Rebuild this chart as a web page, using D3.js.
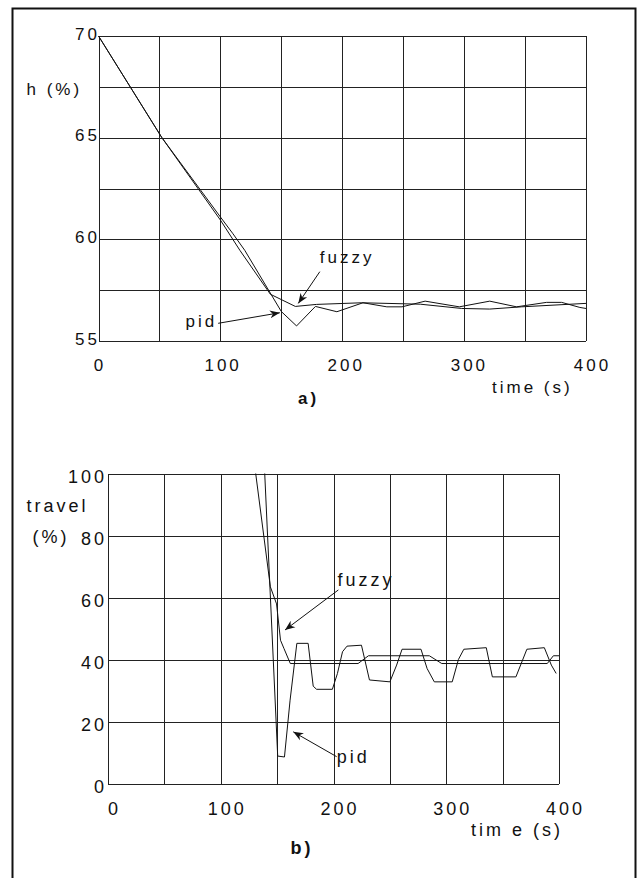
<!DOCTYPE html>
<html>
<head>
<meta charset="utf-8">
<script src="https://cdn.jsdelivr.net/npm/d3@7"></script>
<style>
  body { margin: 0; background: #fff; }
  svg text { font-family: "Liberation Sans", Arial, sans-serif; fill: #111; letter-spacing: 3px; }
</style>
</head>
<body>
<svg id="fig"></svg>
<script>
// ---- dados ----
const tempoTicks = [0, 100, 200, 300, 400];
const nivelTicks = [55, 60, 65, 70];
const cursoTicks = [0, 20, 40, 60, 80, 100];

// a) nivel h (%) x tempo (s)
const nivelPid = [[0,70],[52,65],[100,61.1],[110,60.3],[120,59.46],[150,56.45],[162.5,55.74],[178,56.7],
  [195.6,56.44],[217,56.88],[236.6,56.68],[249,56.68],[268,56.96],[296,56.68],[321,56.96],[343,56.68],
  [367.7,56.9],[380,56.9],[395,56.65],[400,56.6]];
const nivelFuzzy = [[0,70],[52,65],[100,60.95],[116,59.46],[141,57.3],[161.5,56.7],[179,56.8],[216,56.88],
  [264,56.81],[298,56.6],[321,56.57],[347,56.68],[400,56.85]];

// b) curso da valvula travel (%) x tempo (s)
const cursoPid = [[139,100],[150.5,9],[156.5,8.7],[161.5,27],[167.5,45.3],[177.5,45.3],[182,31.5],[185,30.5],
  [199,30.5],[203.5,35.6],[208,42.6],[212,44.4],[224.8,44.7],[231.9,33.5],[250,32.9],[256,38.3],[260.8,43.4],
  [277.6,43.4],[283,37.2],[289.4,32.9],[305.3,32.9],[310.8,40.1],[315.6,43.4],[335.5,43.9],[340.9,34.5],
  [361.8,34.5],[371.5,43.4],[387,43.9],[393.2,38.3],[397.5,35.6]];
const cursoFuzzy = [[131,100],[144,63.5],[149.5,58],[153,46.3],[156,43.7],[161.7,38.8],[221.8,38.8],[231,41.3],
  [285,41.3],[296,38.8],[389.6,38.8],[395,41.3],[400,41.3]];

// anotacoes (em coordenadas dos dados)
const notasNivel = [
  { txt: "fuzzy", tx: 181.6, ty: 58.82, anchor: "start", de: [181.6, 58.41], para: [163.9, 56.85] },
  { txt: "pid",   tx: 95,    ty: 55.69, anchor: "end",   de: [98.2, 55.87],  para: [148.8, 56.39] }
];
const notasCurso = [
  { txt: "fuzzy", tx: 203.5, ty: 63.8, anchor: "start", de: [204.3, 62.5], para: [157, 49.6] },
  { txt: "pid",   tx: 202.8, ty: 6.8,  anchor: "start", de: [202.8, 8.8],  para: [164.3, 16.8] }
];

const W = 637, H = 878;

const $svg = d3.select("#fig").attr("width", W).attr("height", H);

// moldura externa
$svg.append("rect")
    .attr("x", 12.5).attr("y", 8.5)
    .attr("width", 623).attr("height", 900)
    .attr("fill", "none").attr("stroke", "#111").attr("stroke-width", 2);

$svg.append("defs").append("marker")
    .attr("id", "seta")
    .attr("viewBox", "0 -5 10 10")
    .attr("refX", 10).attr("refY", 0)
    .attr("markerWidth", 10).attr("markerHeight", 10)
    .attr("markerUnits", "userSpaceOnUse")
    .attr("orient", "auto")
    .append("path")
    .attr("d", "M0,-4L10,0L0,4L3,0Z")
    .attr("fill", "#111");

function painel(cfg) {
    const x = d3.scaleLinear().domain([0, 400]).range(cfg.xr);
    const y = d3.scaleLinear().domain(cfg.dom).range(cfg.yr);
    const g = $svg.append("g");
    const fs = cfg.fs;

    // grade vertical
    g.append("g")
        .attr("transform", `translate(0,${cfg.yr[0]})`)
        .call(d3.axisBottom(x).tickValues(d3.range(0, 401, 50)).tickSize(-(cfg.yr[0] - cfg.yr[1])).tickFormat(""))
        .call(s => s.selectAll("line").attr("stroke", "#222").attr("shape-rendering", "crispEdges"))
        .call(s => s.select(".domain").remove());

    // grade horizontal
    g.append("g")
        .attr("transform", `translate(${cfg.xr[0]},0)`)
        .call(d3.axisLeft(y).tickValues(cfg.grid).tickSize(-(cfg.xr[1] - cfg.xr[0])).tickFormat(""))
        .call(s => s.selectAll("line").attr("stroke", "#222").attr("shape-rendering", "crispEdges"))
        .call(s => s.select(".domain").remove());

    // rotulos eixo y
    g.selectAll(".ylab").data(cfg.yTicks).join("text")
        .attr("x", cfg.yLabX)
        .attr("y", d => y(d) + cfg.yLabDy)
        .attr("text-anchor", "end")
        .attr("font-size", fs)
        .text(d => d);

    // rotulos eixo x
    g.selectAll(".xlab").data(tempoTicks).join("text")
        .attr("x", d => x(d) + cfg.xLabDx(d) + 1.5)
        .attr("y", cfg.xLabY)
        .attr("text-anchor", "middle")
        .attr("font-size", fs)
        .text(d => d);

    const linha = d3.line().x(d => x(d[0])).y(d => y(d[1]));
    [cfg.pid, cfg.fuzzy].forEach(serie => {
        g.append("path")
            .datum(serie)
            .attr("d", linha)
            .attr("fill", "none")
            .attr("stroke", "#111")
            .attr("stroke-width", 1);
    });

    cfg.notas.forEach(n => {
        g.append("line")
            .attr("x1", x(n.de[0])).attr("y1", y(n.de[1]))
            .attr("x2", x(n.para[0])).attr("y2", y(n.para[1]))
            .attr("stroke", "#111").attr("stroke-width", 1)
            .attr("marker-end", "url(#seta)");
        g.append("text")
            .attr("x", x(n.tx) + (n.anchor === "end" ? 3 : 0))
            .attr("y", y(n.ty))
            .attr("text-anchor", n.anchor)
            .attr("font-size", fs)
            .text(n.txt);
    });

    return { x, y, g };
}

const a = painel({
    xr: [98.5, 586], yr: [341, 36], dom: [55, 70],
    grid: d3.range(55, 70.1, 2.5), yTicks: nivelTicks,
    fs: 17, yLabX: 100, yLabDy: 3.5,
    xLabDx: d => d / 400 * 5, xLabY: 370.5,
    pid: nivelPid, fuzzy: nivelFuzzy, notas: notasNivel
});
a.g.append("text").attr("x", 26.5).attr("y", 95).attr("font-size", 17).text("h (%)");
a.g.append("text").attr("x", 492).attr("y", 392.5).attr("font-size", 17).text("time (s)");
a.g.append("text").attr("x", 298).attr("y", 404).attr("font-size", 17).attr("font-weight", "bold").text("a)");

const b = painel({
    xr: [108, 559], yr: [784, 473.5], dom: [0, 100],
    grid: cursoTicks, yTicks: cursoTicks,
    fs: 18, yLabX: 107, yLabDy: 9,
    xLabDx: d => 5, xLabY: 815,
    pid: cursoPid, fuzzy: cursoFuzzy, notas: notasCurso
});
b.g.append("text").attr("x", 26.5).attr("y", 512).attr("font-size", 18).text("travel");
b.g.append("text").attr("x", 32.5).attr("y", 543).attr("font-size", 18).text("(%)");
b.g.append("text").attr("x", 471).attr("y", 836).attr("font-size", 18).text("tim e (s)");
b.g.append("text").attr("x", 290.5).attr("y", 854).attr("font-size", 18).attr("font-weight", "bold").text("b)");
</script>
</body>
</html>
